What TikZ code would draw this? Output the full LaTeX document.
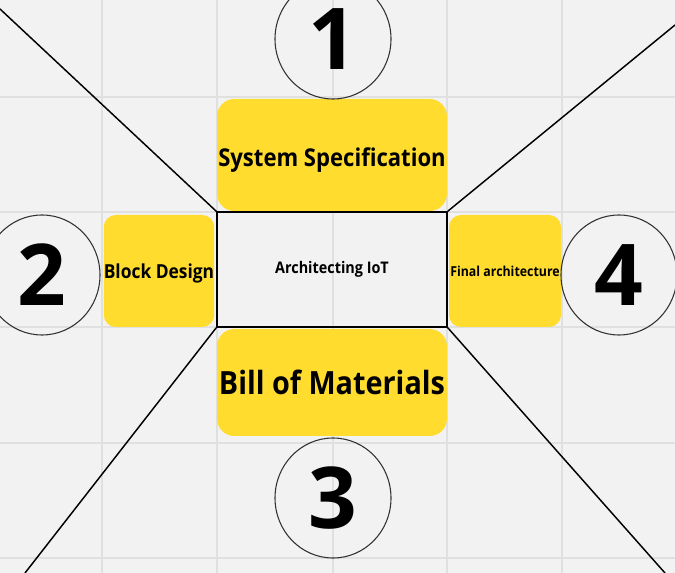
\documentclass[tikz,border=0pt]{standalone}
\usepackage{fontspec}
\setmainfont{Open Sans}[FakeStretch=0.9]
\newfontfamily\numfont{Open Sans}
\usetikzlibrary{shapes.geometric}
\definecolor{bgc}{RGB}{242,242,242}
\definecolor{gridc}{RGB}{224,224,224}
\definecolor{yel}{RGB}{255,220,46}
\definecolor{circc}{RGB}{50,50,50}
\newcommand{\lowtext}[2]{\smash{\raisebox{-#1}{#2}}}
\tikzset{
  ybox/.style={fill=yel, draw=none, rounded corners=12pt, inner sep=0pt, align=center, font=\bfseries},
  numc/.style={ellipse, draw=circc, line width=0.8pt, minimum width=87pt, minimum height=90pt, inner sep=0pt, font=\numfont\fontsize{64}{64}\selectfont\bfseries},
  diag/.style={draw=black, line width=1.1pt},
  gridl/.style={draw=gridc, line width=0.9pt},
}
\begin{document}
\begin{tikzpicture}[x=0.75pt,y=-0.75pt]
\fill[bgc] (0,0) rectangle (675,573);
\useasboundingbox (0,0) rectangle (675,573);
\foreach \g in {102,217,333,447,562} \draw[gridl] (\g,0) -- (\g,573);
\foreach \g in {97,212,327,443,558} \draw[gridl] (0,\g) -- (675,\g);
% central box
\node[draw=black, line width=1.1pt, minimum width=172.5pt, minimum height=86.25pt, inner sep=0pt, font=\fontsize{12}{12}\selectfont\bfseries] (arch) at (332,269.5) {Architecting IoT};
% free ends of diagonals
\coordinate (tl) at (0,9);
\coordinate (tr) at (675,25);
\coordinate (bl) at (25,573);
\coordinate (br) at (665,573);
\draw[diag] (arch.north west) -- (tl);
\draw[diag] (arch.north east) -- (tr);
\draw[diag] (arch.south west) -- (bl);
\draw[diag] (arch.south east) -- (br);
% yellow boxes
\node[ybox, minimum width=172.5pt, minimum height=84pt, rounded corners=13pt, font=\fontsize{18.4}{20}\selectfont\bfseries] (spec) at (332,155) {\lowtext{8.8pt}{System Specification}};
\node[ybox, minimum width=172.5pt, minimum height=80.25pt, rounded corners=13pt, font=\fontsize{24}{26}\selectfont\bfseries] (bom) at (332,382.5) {Bill of Materials};
\node[ybox, minimum width=82.5pt, minimum height=84pt, rounded corners=9pt, font=\fontsize{14.5}{15}\selectfont\bfseries] (block) at (159,271) {\lowtext{5.9pt}{Block Design}};
\node[ybox, minimum width=84pt, minimum height=84pt, rounded corners=9pt, font=\fontsize{10.3}{11}\selectfont\bfseries] (final) at (505,271) {Final architecture};
% numbered circles
\node[numc] (n1) at (333,39) {1};
\node[numc] (n2) at (42,275) {2};
\node[numc] (n3) at (333,498) {3};
\node[numc] (n4) at (619,275) {4};
\end{tikzpicture}
\end{document}
